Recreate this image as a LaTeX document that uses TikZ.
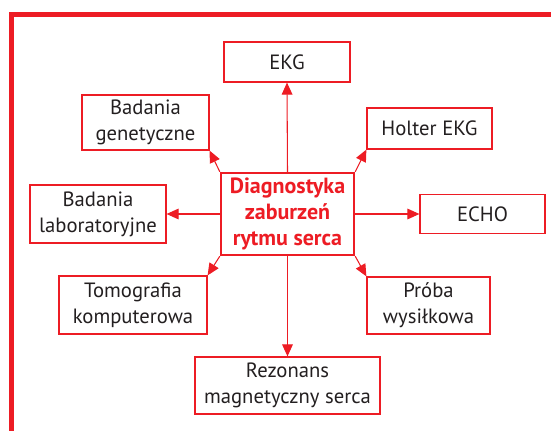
\documentclass[tikz,border=0pt]{standalone}
\usepackage{fontspec}
\setmainfont{PT Sans}
\usetikzlibrary{arrows.meta}
\definecolor{mred}{HTML}{ED1C24}
\definecolor{mtext}{HTML}{231F20}
\begin{document}
\begin{tikzpicture}[x=0.75pt,y=-0.75pt,
  box/.style={draw=mred, line width=0.9pt, align=center, inner sep=0pt, text=mtext,
    font=\fontsize{15.5}{19.5}\selectfont},
  mainbox/.style={draw=mred, line width=1.8pt, align=center, inner sep=0pt, text=mred,
    font=\fontsize{16.5}{19.5}\selectfont\bfseries},
  link/.style={draw=mred, line width=0.8pt, -{Triangle[length=9pt,width=8pt]}}]
\useasboundingbox (0,0) rectangle (551,431);
\draw[mred, line width=3.8pt] (560,14.5) -- (11.5,14.5) -- (11.5,440);

\node (diag) at (287.5,214) [mainbox, minimum width=99.75pt, minimum height=61.5pt] {Diagnostyka\\zaburzeń\\rytmu serca};
\node (ekg) at (287,62) [box, minimum width=94.5pt, minimum height=30pt] {EKG};
\node (gen) at (145.5,122.5) [box, minimum width=95.25pt, minimum height=41.25pt] {Badania\\genetyczne};
\node (holter) at (429.5,128.5) [box, minimum width=93.75pt, minimum height=30.75pt] {Holter EKG};
\node (lab) at (98,214) [box, minimum width=102pt, minimum height=43.5pt] {Badania\\laboratoryjne};
\node (echo) at (482.5,214) [box, minimum width=93.75pt, minimum height=29.25pt] {ECHO};
\node (tomo) at (133,305) [box, minimum width=111pt, minimum height=43.5pt] {Tomografia\\komputerowa};
\node (proba) at (428.5,305.5) [box, minimum width=92.25pt, minimum height=42.75pt] {Próba\\wysiłkowa};
\node (rez) at (287.5,385.5) [box, minimum width=138.75pt, minimum height=42.75pt] {Rezonans\\magnetyczny serca};

\draw[link] (diag.north) to (ekg.south);
\draw[link] (diag.south) to (rez.north);
\draw[link] (diag.west) to (lab.east);
\draw[link] (diag.east) to (echo.west);
\draw[link] (diag.north west) to (gen.south east);
\draw[link] (diag.north east) to (holter.south west);
\draw[link] (diag.south west) to (tomo.north east);
\draw[link] (diag.south east) to (proba.north west);
\end{tikzpicture}
\end{document}
